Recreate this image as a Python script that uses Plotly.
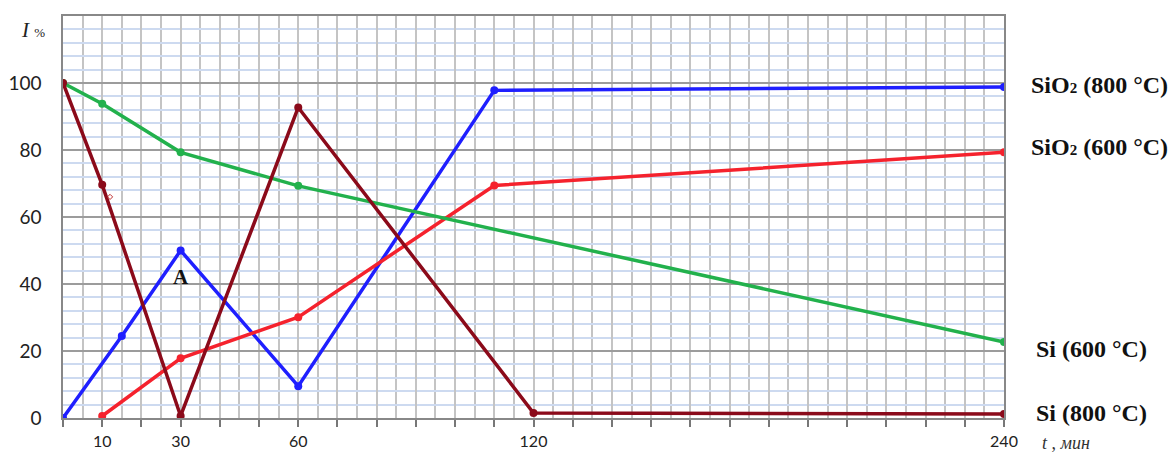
import plotly.graph_objects as go

# Data (time in minutes, intensity in %)
t_sio2_800 = [0, 15, 30, 60, 110, 240]
i_sio2_800 = [0, 24.5, 50, 9.5, 97.8, 98.8]

t_sio2_600 = [10, 30, 60, 110, 240]
i_sio2_600 = [0.6, 17.8, 30.1, 69.4, 79.3]

t_si_600 = [0, 10, 30, 60, 240]
i_si_600 = [100, 93.8, 79.3, 69.3, 22.7]

t_si_800 = [0, 10, 30, 60, 120, 240]
i_si_800 = [100, 69.6, 0.6, 92.7, 1.5, 1.2]

series_names = ["SiO<span style='font-size:15px'>2</span> (800 °C)",
                "SiO<span style='font-size:15px'>2</span> (600 °C)",
                "Si (600 °C)", "Si (800 °C)"]
label_y = [99.5, 81, 20.5, 1.5]
label_x = [1.027, 1.027, 1.032, 1.032]
colors = ["#1f1fff", "#f5222d", "#22b14c", "#8b0a1a"]

x_label_vals = [10, 30, 60, 120, 240]
x_tick_vals = list(range(0, 250, 10))
y_tick_vals = [0, 20, 40, 60, 80, 100, 120]

fig = go.Figure()
all_t = [t_sio2_800, t_sio2_600, t_si_600, t_si_800]
all_i = [i_sio2_800, i_sio2_600, i_si_600, i_si_800]
for t, i, name, lx, ly, c in zip(all_t, all_i, series_names, label_x, label_y, colors):
    fig.add_trace(go.Scatter(x=t, y=i, mode="lines+markers",
                             line=dict(color=c, width=3.5),
                             marker=dict(color=c, size=8), showlegend=False))
    # series label to the right of the curve end
    fig.add_annotation(x=lx, xref="paper", y=ly, yref="y", text="<b>" + name + "</b>",
                       showarrow=False, xanchor="left",
                       font=dict(family="Liberation Serif", size=24, color="#111"))

# small hollow marker near Si (800) curve
fig.add_trace(go.Scatter(x=[12], y=[66], mode="markers", showlegend=False,
                         marker=dict(symbol="diamond-open", size=4, color="#c03030")))

fig.add_annotation(x=30, y=42, text="<b>A</b>", showarrow=False,
                   font=dict(family="Liberation Serif", size=21, color="#111"))

fig.add_annotation(x=-0.047, xref="paper", y=1.0, yref="paper",
                   text="<i>I</i> <span style='font-size:13px'>%</span>",
                   showarrow=False, xanchor="left", yanchor="top",
                   font=dict(family="Liberation Serif", size=21, color="#222"))
fig.add_annotation(x=1.038, xref="paper", y=-0.062, yref="paper",
                   text="<i>t</i> , <i>мин</i>", showarrow=False,
                   xanchor="left", yanchor="middle",
                   font=dict(family="Liberation Serif", size=18, color="#333"))

fig.update_layout(
    width=1169, height=452,
    margin=dict(l=63, r=165, t=16, b=34),
    plot_bgcolor="white", paper_bgcolor="white",
    font=dict(family="Lato", size=18, color="#222"),
)
fig.update_xaxes(
    range=[0, 240], tickmode="array", tickvals=x_tick_vals,
    ticktext=[str(v) if v in x_label_vals else "" for v in x_tick_vals],
    ticks="outside", ticklen=7, tickcolor="#777", tickwidth=1.5,
    showgrid=True, gridcolor="#c4c4c4", gridwidth=1.5,
    minor=dict(dtick=5, tick0=0, showgrid=True, gridcolor="#c4c4c4", gridwidth=1.5),
    showline=True, linecolor="#888", linewidth=1.5, mirror=True,
    zeroline=False, ticklabelstandoff=1, automargin=False,
    tickfont=dict(family="Lato", size=16, color="#222"),
)
fig.update_yaxes(
    range=[0, 120], tickmode="array", tickvals=y_tick_vals,
    ticktext=[str(v) if v <= 100 else "" for v in y_tick_vals],
    ticks="", showgrid=True, gridcolor="#9c9c9c", gridwidth=1.5,
    minor=dict(dtick=4, tick0=0, showgrid=True, gridcolor="#cddaf0", gridwidth=2),
    showline=True, linecolor="#888", linewidth=1.5, mirror=True,
    zeroline=False, ticklabelstandoff=16, automargin=False,
    tickfont=dict(family="Lato", size=19, color="#222"),
)

fig.write_html("out.html", config={"displayModeBar": False},
               post_script="document.body.style.margin='0px';document.body.style.overflow='hidden';")
